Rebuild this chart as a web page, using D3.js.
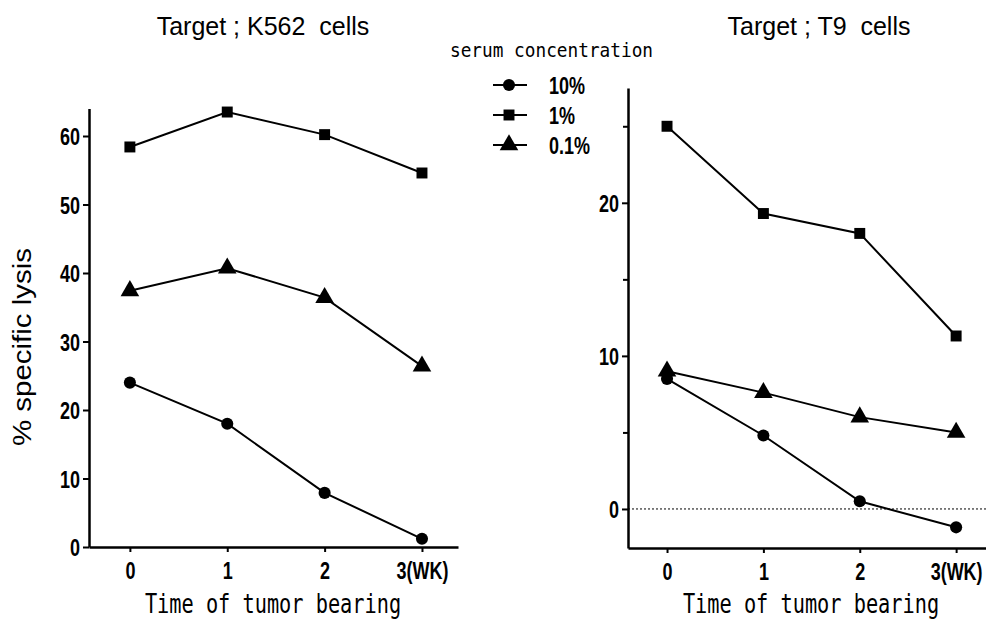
<!DOCTYPE html>
<html>
<head>
<meta charset="utf-8">
<script src="https://cdn.jsdelivr.net/npm/d3@7"></script>
<style>
  html, body { margin: 0; padding: 0; background: #fff; }
  svg { display: block; }
  .tick text { font-family: "Liberation Sans", Arial, sans-serif; font-weight: bold; font-size: 24px; fill: #000; }
  .narrow { font-family: "Liberation Sans", Arial, sans-serif; font-weight: bold; font-size: 24px; }
</style>
</head>
<body>
<svg id="chart" width="986" height="622"></svg>
<script>
// Time points (weeks of tumor bearing) and their axis labels
const timePoints = [0, 1, 2, 3];
const xTickLabels = ["0", "1", "2", "3(WK)"];

// Serum concentration series
const seriesNames = ["10%", "1%", "0.1%"];

// % specific lysis against K562 cells
const k562Serum10 = [24.0, 18.0, 7.9, 1.2];
const k562Serum1 = [58.4, 63.5, 60.2, 54.6];
const k562Serum01 = [37.4, 40.7, 36.4, 26.4];

// % specific lysis against T9 cells
const t9Serum10 = [8.5, 4.8, 0.5, -1.2];
const t9Serum1 = [25.0, 19.3, 18.0, 11.3];
const t9Serum01 = [9.0, 7.6, 6.0, 5.0];

// Y tick values
const k562Ticks = [0, 10, 20, 30, 40, 50, 60];
const t9Ticks = [0, 10, 20];
const t9MinorTicks = [5, 15, 25];

const svg = d3.select("#chart");
const symbols = [d3.symbolCircle, d3.symbolSquare, d3.symbolTriangle];
const symbolSizes = [115, 120, 150];

// squeeze a label horizontally about its anchor point to imitate a condensed face
function condense(sel, factor) {
  sel.each(function () {
    const ax = +(this.getAttribute("x") || 0);
    d3.select(this)
      .attr("transform", `translate(${ax},0) scale(${factor},1) translate(${-ax},0)`);
  });
}

function drawPanel(opts) {
  const g = svg.append("g");
  const x = d3.scaleLinear().domain(opts.xDomain).range(opts.xRange);
  const y = d3.scaleLinear().domain(opts.yDomain).range(opts.yRange);

  // zero reference line
  if (opts.zeroLine) {
    g.append("line")
      .attr("x1", opts.xRange[0]).attr("x2", opts.xRange[1])
      .attr("y1", y(0)).attr("y2", y(0))
      .attr("stroke", "#000").attr("stroke-width", 1)
      .attr("stroke-dasharray", "2,2");
  }

  // x axis
  const xAxis = d3.axisBottom(x)
    .tickValues(timePoints)
    .tickFormat((d, i) => xTickLabels[i])
    .tickSize(5).tickSizeOuter(0).tickPadding(10);
  const gx = g.append("g")
    .attr("transform", `translate(0,${opts.yRange[0]})`)
    .call(xAxis);
  gx.select(".domain").attr("stroke", "#000").attr("stroke-width", 2.5);
  gx.selectAll(".tick line").attr("stroke", "#000").attr("stroke-width", 2);
  condense(gx.selectAll(".tick text"), 0.75);

  // y axis
  const yAxis = d3.axisLeft(y)
    .tickValues(opts.yTicks)
    .tickFormat(d3.format("d"))
    .tickSize(6).tickSizeOuter(0).tickPadding(3);
  const gy = g.append("g")
    .attr("transform", `translate(${opts.xRange[0]},0)`)
    .call(yAxis);
  gy.select(".domain").attr("stroke", "#000").attr("stroke-width", 2.5);
  gy.selectAll(".tick line").attr("stroke", "#000").attr("stroke-width", 2);
  gy.selectAll(".tick text").attr("dy", "0.36em");
  condense(gy.selectAll(".tick text"), 0.75);

  if (opts.minorTicks) {
    const gm = g.append("g")
      .attr("transform", `translate(${opts.xRange[0]},0)`)
      .call(d3.axisLeft(y).tickValues(opts.minorTicks).tickFormat("").tickSize(5).tickSizeOuter(0));
    gm.select(".domain").remove();
    gm.selectAll(".tick line").attr("stroke", "#000").attr("stroke-width", 2);
  }

  // series lines and markers
  const line = d3.line().x((d, i) => x(timePoints[i])).y(d => y(d));
  opts.series.forEach((vals, s) => {
    g.append("path")
      .datum(vals)
      .attr("d", line)
      .attr("fill", "none")
      .attr("stroke", "#000")
      .attr("stroke-width", 2);
    g.selectAll(null)
      .data(vals)
      .enter().append("path")
      .attr("d", d3.symbol().type(symbols[s]).size(symbolSizes[s]))
      .attr("transform", (d, i) => `translate(${x(timePoints[i])},${y(d)})`)
      .attr("fill", "#000");
  });

  // panel title
  g.append("text")
    .attr("x", opts.titleX).attr("y", 35)
    .attr("text-anchor", "middle")
    .attr("xml:space", "preserve")
    .style("font-family", "'Liberation Sans', Arial, sans-serif")
    .style("font-size", "25px")
    .text(opts.title);

  // x axis title
  const xt = g.append("text")
    .attr("x", opts.xTitleX).attr("y", 613)
    .attr("text-anchor", "middle")
    .style("font-family", "'DejaVu Sans Mono', monospace")
    .style("font-size", "26px")
    .text("Time of tumor bearing");
  condense(xt, 0.78);
}

drawPanel({
  xDomain: [-0.42, 3.37], xRange: [89, 458],
  yDomain: [0, 64], yRange: [547, 108.6],
  yTicks: k562Ticks,
  series: [k562Serum10, k562Serum1, k562Serum01],
  title: "Target ; K562  cells", titleX: 263,
  xTitleX: 273
});

drawPanel({
  xDomain: [-0.405, 3.31], xRange: [628, 986],
  yDomain: [-2.55, 27.5], yRange: [548, 88],
  yTicks: t9Ticks, minorTicks: t9MinorTicks,
  zeroLine: true,
  series: [t9Serum10, t9Serum1, t9Serum01],
  title: "Target ; T9  cells", titleX: 819,
  xTitleX: 811
});

// y axis title
svg.append("text")
  .attr("transform", "translate(31,347) rotate(-90)")
  .attr("text-anchor", "middle")
  .attr("textLength", 198)
  .attr("lengthAdjust", "spacingAndGlyphs")
  .style("font-family", "'Liberation Sans', Arial, sans-serif")
  .style("font-size", "25px")
  .text("% specific lysis");

// legend
const legend = svg.append("g");
legend.append("text")
  .attr("x", 450).attr("y", 57)
  .attr("textLength", 203)
  .attr("lengthAdjust", "spacingAndGlyphs")
  .style("font-family", "'DejaVu Sans Mono', monospace")
  .style("font-size", "20px")
  .text("serum concentration");

const legendRows = [85, 115, 145];
seriesNames.forEach((name, s) => {
  const ly = legendRows[s];
  legend.append("line")
    .attr("x1", 493).attr("x2", 527).attr("y1", ly).attr("y2", ly)
    .attr("stroke", "#000").attr("stroke-width", 2);
  legend.append("path")
    .attr("d", d3.symbol().type(symbols[s]).size(symbolSizes[s]))
    .attr("transform", `translate(509,${ly})`)
    .attr("fill", "#000");
  legend.append("text")
    .attr("class", "narrow")
    .attr("x", 549).attr("y", ly).attr("dy", "0.36em")
    .text(name);
});
condense(legend.selectAll("text.narrow"), 0.75);
</script>
</body>
</html>
